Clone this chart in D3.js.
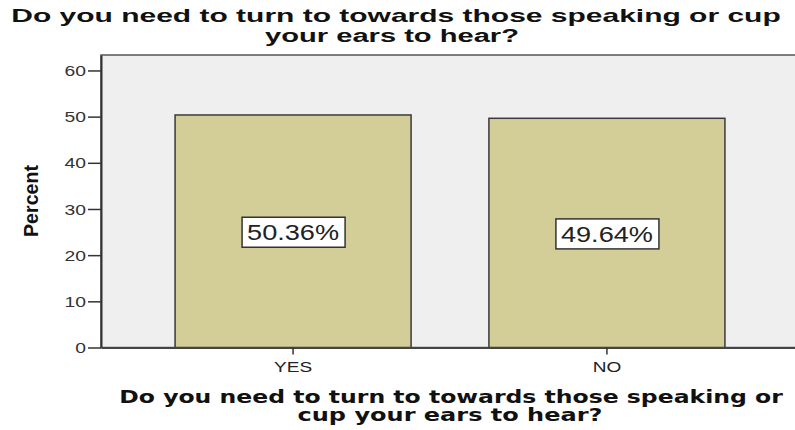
<!DOCTYPE html>
<html>
<head>
<meta charset="utf-8">
<script src="https://cdn.jsdelivr.net/npm/d3@7"></script>
<style>
  html, body { margin: 0; padding: 0; background: #fff; }
  svg { display: block; }
</style>
</head>
<body>
<svg id="chart" width="795" height="430"></svg>
<script>
// Response categories and their share of respondents (%)
const categories = ["YES", "NO"];
const percents = [50.36, 49.64];
const yTicks = [0, 10, 20, 30, 40, 50, 60];
const titleLines = ["Do you need to turn to towards those speaking or cup", "your ears to hear?"];
const xTitleLines = ["Do you need to turn to towards those speaking or", "cup your ears to hear?"];
const yTitle = "Percent";

const svg = d3.select("#chart");
const plot = { left: 101, top: 55, right: 799, bottom: 347.5 };

const x = d3.scaleBand()
  .domain(categories)
  .range([plot.left, plot.right])
  .paddingInner(0.248)
  .paddingOuter(0.236);

const y = d3.scaleLinear()
  .domain([0, 63.35])
  .range([plot.bottom, plot.top]);

// stretch a text element horizontally to the given width, centred on (cx, by)
function fitWidth(sel, cx, by, width) {
  const w = sel.node().getComputedTextLength();
  sel.attr("text-anchor", "middle")
     .attr("x", 0).attr("y", 0)
     .attr("transform", `translate(${cx},${by}) scale(${width / w},1)`);
}

// plot background
svg.append("rect")
  .attr("x", plot.left).attr("y", plot.top)
  .attr("width", plot.right - plot.left).attr("height", plot.bottom - plot.top)
  .attr("fill", "#efefef")
  .attr("stroke", "#555").attr("stroke-width", 1.5);

// bars
svg.append("g").selectAll("rect")
  .data(categories)
  .join("rect")
  .attr("x", d => x(d))
  .attr("y", (d, i) => y(percents[i]))
  .attr("width", x.bandwidth())
  .attr("height", (d, i) => y(0) - y(percents[i]))
  .attr("fill", "#d3ce98")
  .attr("stroke", "#3a3a3a")
  .attr("stroke-width", 1.5);

// value labels in boxes
const lab = svg.append("g").selectAll("g")
  .data(categories)
  .join("g")
  .attr("transform", (d, i) => `translate(${x(d) + x.bandwidth() / 2},${y(percents[i] / 2)})`);
lab.append("rect")
  .attr("x", -51).attr("y", -14).attr("width", 103).attr("height", 30)
  .attr("fill", "#fff").attr("stroke", "#333").attr("stroke-width", 1.5);
lab.append("text")
  .attr("y", 9)
  .attr("text-anchor", "middle")
  .attr("font-family", "Liberation Sans, Arial, sans-serif")
  .attr("font-size", 22)
  .attr("fill", "#222")
  .text((d, i) => percents[i].toFixed(2) + "%")
  .each(function () {
    const w = this.getComputedTextLength();
    d3.select(this).attr("transform", `scale(${92 / w},1)`);
  });

// y axis
const yAxis = svg.append("g")
  .attr("transform", `translate(${plot.left},0)`)
  .call(d3.axisLeft(y).tickValues(yTicks).tickSize(13).tickPadding(2).tickSizeOuter(0));
yAxis.select(".domain").attr("stroke", "#333").attr("stroke-width", 2);
yAxis.selectAll(".tick line").attr("stroke", "#333").attr("stroke-width", 1.5);
yAxis.selectAll(".tick text")
  .attr("font-family", "Liberation Sans, Arial, sans-serif")
  .attr("font-size", 14)
  .attr("fill", "#333")
  .attr("x", 0)
  .attr("dy", "0.36em")
  .attr("transform", "translate(-15,0) scale(1.38,1)");

// x axis
const xAxis = svg.append("g")
  .attr("transform", `translate(0,${plot.bottom})`)
  .call(d3.axisBottom(x).tickSize(7).tickPadding(3).tickSizeOuter(0));
xAxis.select(".domain").attr("stroke", "#444").attr("stroke-width", 2);
xAxis.selectAll(".tick line").attr("stroke", "#333").attr("stroke-width", 1.5);
xAxis.selectAll(".tick text")
  .attr("font-family", "Liberation Sans, Arial, sans-serif")
  .attr("font-size", 15)
  .attr("fill", "#222")
  .attr("y", 0).attr("dy", 0)
  .attr("transform", "translate(0,24) scale(1.27,1)");

// y axis title (condensed bold)
const yt = svg.append("text")
  .attr("font-family", "Liberation Sans, Arial, sans-serif")
  .attr("font-weight", "bold")
  .attr("font-size", 21)
  .attr("fill", "#111")
  .attr("text-anchor", "middle")
  .text(yTitle);
{
  const w = yt.node().getComputedTextLength();
  yt.attr("transform", `translate(38,201) rotate(-90) scale(${72 / w},1)`);
}

// chart title
const titleSpec = [{ by: 22, w: 770, cx: 396 }, { by: 42, w: 254, cx: 392 }];
titleLines.forEach((t, i) => {
  const s = svg.append("text")
    .attr("font-family", "Liberation Sans, Arial, sans-serif")
    .attr("font-weight", "bold")
    .attr("font-size", 18)
    .attr("fill", "#111")
    .text(t);
  fitWidth(s, titleSpec[i].cx, titleSpec[i].by, titleSpec[i].w);
});

// x axis title
const xTitleSpec = [{ by: 403, w: 664, cx: 451 }, { by: 421, w: 305, cx: 450 }];
xTitleLines.forEach((t, i) => {
  const s = svg.append("text")
    .attr("font-family", "DejaVu Sans, Verdana, sans-serif")
    .attr("font-weight", "bold")
    .attr("font-size", 17)
    .attr("fill", "#111")
    .text(t);
  fitWidth(s, xTitleSpec[i].cx, xTitleSpec[i].by, xTitleSpec[i].w);
});
</script>
</body>
</html>
